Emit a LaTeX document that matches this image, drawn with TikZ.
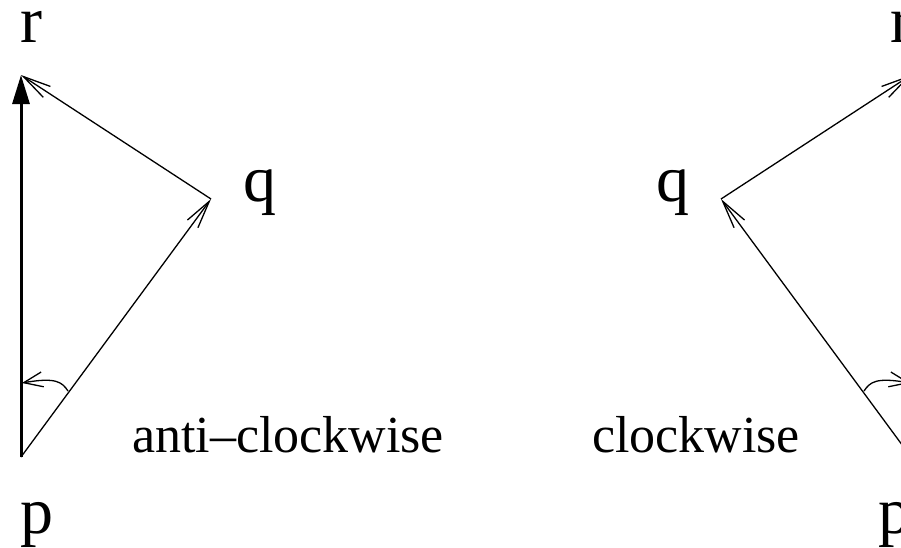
\documentclass[tikz,border=0pt]{standalone}
\usepackage{fontspec}
\setmainfont{Liberation Serif}
\usetikzlibrary{arrows.meta}
\tikzset{
  thinarr/.style={line width=1.3pt,-{Straight Barb[length=28pt,width=13pt,line width=1.3pt]}},
  thickarr/.style={line width=3pt,-{Triangle[length=29pt,width=17pt]}},
  anglearr/.style={line width=1.3pt,-{Straight Barb[length=19pt,width=15pt,line width=1.3pt]}},
  ptlabel/.style={anchor=base,inner sep=0pt,text height=0.47em,text depth=0.2em,font=\fontsize{66}{70}\selectfont},
  txtlabel/.style={anchor=base,inner sep=0pt,font=\fontsize{52}{60}\selectfont}
}
\begin{document}
\begin{tikzpicture}[x=1pt,y=-1pt]
\useasboundingbox (0,0) rectangle (901,547);
\clip (0,0) rectangle (901,547);
% left diagram
\coordinate (p) at (21,457);
\coordinate (q) at (211,199);
\coordinate (r) at (21,75);
\coordinate (a1) at (68,391);
\coordinate (a2) at (22,383);
\draw[thickarr] (p) -- (r);
\draw[thinarr] (p) -- (q);
\draw[thinarr] (q) -- (r);
\draw[anglearr] (a1) .. controls (62,382) and (56,377) .. (a2);
\node[ptlabel] (lr) at (31,42) {r};
\node[ptlabel] (lq) at (260,201) {q};
\node[ptlabel] (lp) at (37,533) {p};
\node[txtlabel] (acw) at (288,452) {anti–clockwise};
% right diagram (mirrored)
\coordinate (p2) at (911,457);
\coordinate (q2) at (721,199);
\coordinate (r2) at (911,75);
\coordinate (b1) at (864,391);
\coordinate (b2) at (910,383);
\draw[thickarr] (p2) -- (r2);
\draw[thinarr] (p2) -- (q2);
\draw[thinarr] (q2) -- (r2);
\draw[anglearr] (b1) .. controls (870,382) and (876,377) .. (b2);
\node[ptlabel] (rr) at (901,42) {r};
\node[ptlabel] (rq) at (673,201) {q};
\node[ptlabel] (rp) at (895,533) {p};
\node[txtlabel] (cw) at (696,452) {clockwise};
\end{tikzpicture}
\end{document}
